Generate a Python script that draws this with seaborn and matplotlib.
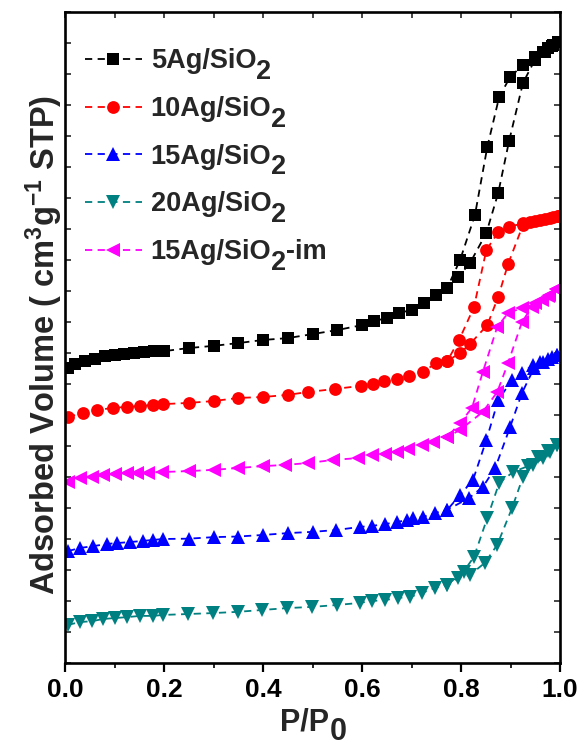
import matplotlib
matplotlib.use("Agg")
import matplotlib.pyplot as plt
from matplotlib.ticker import MultipleLocator, NullFormatter
import seaborn as sns
import pandas as pd

sns.set_theme(style="white")
plt.rcParams["font.family"] = ["Liberation Sans", "DejaVu Sans"]
plt.rcParams["font.weight"] = "bold"
plt.rcParams["mathtext.fontset"] = "custom"
plt.rcParams["mathtext.rm"] = "Liberation Sans:bold"
plt.rcParams["mathtext.bf"] = "Liberation Sans:bold"
plt.rcParams["mathtext.default"] = "bf"

# N2 adsorption/desorption isotherms (curves offset vertically, arbitrary units)
ag5_ads_p = [0.006, 0.02, 0.04, 0.06, 0.08, 0.10, 0.12, 0.14, 0.16, 0.18, 0.20,
             0.25, 0.30, 0.35, 0.40, 0.45, 0.50, 0.55, 0.60, 0.625, 0.65, 0.675,
             0.70, 0.725, 0.75, 0.772, 0.794, 0.818, 0.851, 0.875, 0.897, 0.925,
             0.949, 0.970, 0.984, 0.996]
ag5_ads_v = [9.52, 9.65, 9.74, 9.82, 9.89, 9.94, 9.97, 10.00, 10.03, 10.05, 10.06,
             10.16, 10.23, 10.32, 10.42, 10.48, 10.61, 10.74, 10.90, 11.03, 11.13, 11.29,
             11.39, 11.61, 11.87, 12.10, 12.45, 12.90, 13.87, 15.16, 16.84, 18.71,
             19.45, 19.71, 19.90, 20.03]
ag5_des_p = [0.996, 0.986, 0.976, 0.966, 0.949, 0.925, 0.899, 0.877, 0.853, 0.828, 0.798, 0.772]
ag5_des_v = [20.03, 19.94, 19.84, 19.71, 19.55, 19.29, 18.90, 18.26, 16.65, 14.45, 13.00, 12.10]

ag10_ads_p = [0.006, 0.036, 0.065, 0.097, 0.125, 0.152, 0.178, 0.198, 0.25, 0.30,
              0.35, 0.40, 0.45, 0.49, 0.545, 0.598, 0.622, 0.645, 0.671, 0.695,
              0.723, 0.75, 0.772, 0.798, 0.818, 0.853, 0.875, 0.895, 0.925, 0.95,
              0.97, 0.985, 0.995]
ag10_ads_v = [7.94, 8.06, 8.16, 8.23, 8.26, 8.29, 8.32, 8.35, 8.39, 8.45,
              8.55, 8.58, 8.65, 8.74, 8.84, 8.94, 9.00, 9.10, 9.16, 9.26,
              9.39, 9.68, 9.74, 10.00, 10.29, 10.90, 11.81, 12.87, 14.13, 14.26,
              14.33, 14.39, 14.43]
ag10_des_p = [0.995, 0.98, 0.96, 0.94, 0.925, 0.897, 0.875, 0.851, 0.826, 0.796, 0.772]
ag10_des_v = [14.43, 14.37, 14.30, 14.24, 14.19, 14.06, 13.90, 13.32, 11.48, 10.42, 9.74]

ag15_ads_p = [0.006, 0.030, 0.057, 0.085, 0.105, 0.131, 0.158, 0.178, 0.198, 0.25,
              0.30, 0.35, 0.40, 0.45, 0.50, 0.548, 0.596, 0.62, 0.646, 0.671,
              0.691, 0.703, 0.723, 0.747, 0.772, 0.816, 0.844, 0.869, 0.899, 0.923,
              0.947, 0.966, 0.984, 0.994]
ag15_ads_v = [3.61, 3.71, 3.77, 3.84, 3.87, 3.90, 3.94, 3.97, 4.00, 4.01,
              4.06, 4.08, 4.13, 4.19, 4.23, 4.29, 4.39, 4.42, 4.48, 4.55,
              4.61, 4.68, 4.71, 4.84, 4.94, 5.32, 5.68, 6.29, 7.61, 8.71,
              9.50, 9.71, 9.87, 9.94]
ag15_des_p = [0.994, 0.975, 0.96, 0.945, 0.923, 0.903, 0.875, 0.851, 0.824, 0.798, 0.772]
ag15_des_v = [9.94, 9.80, 9.72, 9.61, 9.35, 9.13, 8.48, 7.19, 5.90, 5.42, 4.94]

ag20_ads_p = [0.006, 0.030, 0.055, 0.077, 0.101, 0.125, 0.152, 0.178, 0.198, 0.249,
              0.299, 0.349, 0.398, 0.448, 0.499, 0.549, 0.596, 0.620, 0.646, 0.673,
              0.697, 0.721, 0.747, 0.772, 0.794, 0.818, 0.848, 0.873, 0.903, 0.925,
              0.945, 0.966, 0.980, 0.994]
ag20_ads_v = [1.23, 1.32, 1.35, 1.42, 1.45, 1.48, 1.52, 1.52, 1.55, 1.58,
              1.61, 1.65, 1.71, 1.77, 1.81, 1.87, 1.94, 2.00, 2.03, 2.10,
              2.13, 2.26, 2.42, 2.52, 2.74, 2.84, 3.23, 3.81, 5.00, 6.00,
              6.39, 6.61, 6.81, 7.03]
ag20_des_p = [0.994, 0.975, 0.955, 0.935, 0.905, 0.877, 0.853, 0.826, 0.805, 0.772]
ag20_des_v = [7.03, 6.85, 6.65, 6.35, 6.16, 5.81, 4.68, 3.42, 2.95, 2.52]

im15_ads_p = [0.006, 0.030, 0.055, 0.077, 0.101, 0.125, 0.145, 0.168, 0.196, 0.25,
              0.30, 0.35, 0.40, 0.445, 0.491, 0.541, 0.592, 0.62, 0.646, 0.671,
              0.693, 0.721, 0.743, 0.772, 0.798, 0.844, 0.873, 0.895, 0.923, 0.943,
              0.964, 0.978, 0.992]
im15_ads_v = [5.84, 5.97, 6.00, 6.06, 6.10, 6.13, 6.13, 6.14, 6.16, 6.19,
              6.23, 6.29, 6.35, 6.39, 6.45, 6.55, 6.61, 6.71, 6.74, 6.81,
              6.90, 7.03, 7.13, 7.29, 7.52, 8.10, 8.74, 9.68, 11.00, 11.48,
              11.71, 11.87, 12.07]
im15_des_p = [0.992, 0.975, 0.95, 0.923, 0.895, 0.873, 0.844, 0.822, 0.798, 0.772]
im15_des_v = [12.07, 11.85, 11.61, 11.45, 11.29, 10.84, 9.39, 8.23, 7.74, 7.29]

# legend names: (text before the subscript, subscript, text after)
names = [("5Ag/SiO", "2", ""), ("10Ag/SiO", "2", ""), ("15Ag/SiO", "2", ""),
         ("20Ag/SiO", "2", ""), ("15Ag/SiO", "2", "-im")]
colors = ["#000000", "#ff0000", "#0000ff", "#008080", "#ff00ff"]
markers = ["s", "o", "^", "v", "<"]
msizes = [8.8, 9.2, 9.6, 9.6, 9.6]

curves = [
    (ag5_ads_p, ag5_ads_v, ag5_des_p, ag5_des_v),
    (ag10_ads_p, ag10_ads_v, ag10_des_p, ag10_des_v),
    (ag15_ads_p, ag15_ads_v, ag15_des_p, ag15_des_v),
    (ag20_ads_p, ag20_ads_v, ag20_des_p, ag20_des_v),
    (im15_ads_p, im15_ads_v, im15_des_p, im15_des_v),
]

fig = plt.figure(figsize=(5.81, 7.54), dpi=100)
ax = fig.add_axes([0.112, 0.1207, 0.852, 0.8634])

for (ap, av, dp, dv), nm, col, mk, ms in zip(curves, names, colors, markers, msizes):
    df = pd.DataFrame({"p": list(ap) + list(dp), "v": list(av) + list(dv)})
    sns.lineplot(data=df, x="p", y="v", sort=False, estimator=None, ax=ax,
                 color=col, marker=mk, markersize=ms, markeredgewidth=0,
                 linestyle=(0, (4, 3)), linewidth=1.3, label=nm[0])

ax.set_xlim(0, 1.0)
ax.set_ylim(0, 21)
ax.set_xticks([0.0, 0.2, 0.4, 0.6, 0.8, 1.0])
ax.set_xticklabels(["0.0", "0.2", "0.4", "0.6", "0.8", "1.0"])
ax.xaxis.set_minor_locator(MultipleLocator(0.1))
ax.yaxis.set_major_locator(MultipleLocator(1))
ax.yaxis.set_major_formatter(NullFormatter())

ax.tick_params(axis="x", which="major", direction="out", length=6.5, width=1.6,
               labelsize=19, pad=4, bottom=True, top=False, colors="black")
ax.tick_params(axis="x", which="minor", direction="out", length=3.6, width=1.4,
               bottom=True, top=False)
ax.tick_params(axis="y", which="major", direction="in", length=4, width=1.2,
               left=True, right=True, labelleft=False)
for s in ax.spines.values():
    s.set_linewidth(1.9)
    s.set_color("black")

# inward ticks along the top edge
top = ax.secondary_xaxis("top")
top.xaxis.set_major_locator(MultipleLocator(0.1))
top.xaxis.set_major_formatter(NullFormatter())
top.tick_params(direction="in", length=4, width=1.2, labeltop=False)
top.spines["top"].set_visible(False)

for t in ax.get_xticklabels():
    t.set_fontweight("bold")

# x-axis title with a full-size subscript
ax.set_xlabel("")
xl = ax.text(0.483, -0.103, "P/P", transform=ax.transAxes, ha="center",
             va="baseline", fontsize=22, fontweight="bold")
ax.annotate("0", xy=(1, 1), xycoords=xl, xytext=(0.5, -7.5),
            textcoords="offset points", ha="left", va="top",
            fontsize=22, fontweight="bold", annotation_clip=False)

ax.set_ylabel(r"Adsorbed Volume ( cm$^3$g$^{-1}$ STP)", fontsize=23.5,
              fontweight="bold")
ax.yaxis.set_label_coords(0.0, 0.488)

leg = ax.legend(loc="upper left", bbox_to_anchor=(0.04, 0.944), frameon=False,
                fontsize=19.5, handlelength=2.1, handletextpad=0.33,
                labelspacing=0.8, borderaxespad=0.0, borderpad=0.0)
for t in leg.get_texts():
    t.set_fontweight("bold")

fig.canvas.draw()
for t, (_, sub, tail) in zip(leg.get_texts(), names):
    a = ax.annotate(sub, xy=(1, 1), xycoords=t, xytext=(0, -7.5),
                    textcoords="offset points", ha="left", va="top",
                    fontsize=19.5, fontweight="bold", zorder=10,
                    annotation_clip=False)
    if tail:
        ax.annotate(tail, xy=(1, 1), xycoords=a, xytext=(0, 7.5),
                    textcoords="offset points", ha="left", va="top",
                    fontsize=19.5, fontweight="bold", zorder=10,
                    annotation_clip=False)

fig.savefig("out.png", dpi=100)
